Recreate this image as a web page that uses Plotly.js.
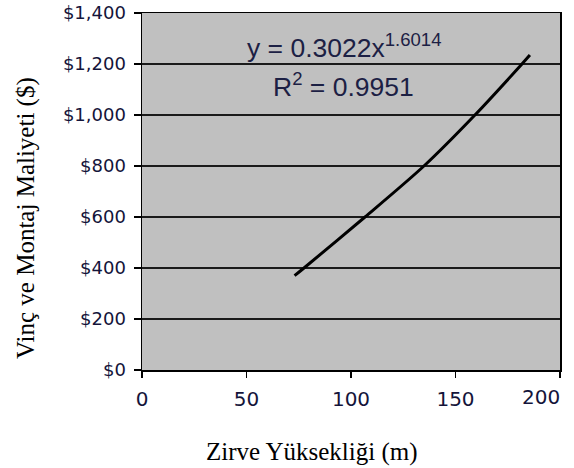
<!DOCTYPE html>
<html>
<head>
<meta charset="utf-8">
<script src="https://cdn.plot.ly/plotly-3.0.1.min.js"></script>
<style>
html,body{margin:0;padding:0;background:#fff;}
#chart{width:574px;height:468px;}
</style>
</head>
<body>
<div id="chart"></div>
<script>
// Curve (height in m, cost in $)
const heights = [73, 77.5, 106.7, 134.9, 159.3, 181.8, 185.6];
const costs   = [370, 400, 600, 800, 1000, 1200, 1235];

const xTickVals = [0, 50, 100, 150, 200];
const xTickText = ['0', '50', '100', '150', '200'];
const yTickVals = [0, 200, 400, 600, 800, 1000, 1200, 1400];
const yTickText = ['$0', '$200', '$400', '$600', '$800', '$1,000', '$1,200', '$1,400'];

const eqText = 'y = 0.3022x<sup>1.6014</sup>';
const r2Text = 'R<sup>2</sup> = 0.9951';
const xTitle = 'Zirve Yüksekliği (m)';
const yTitle = 'Vinç ve Montaj Maliyeti ($)';

const L = 142, R = 560, T = 13, B = 370;
const px = x => (x - L) / (R - L);
const py = y => (B - y) / (B - T);

const trace = {
  x: heights, y: costs, type: 'scatter', mode: 'lines',
  line: {color: '#000', width: 3, shape: 'spline', smoothing: 0.8},
  hoverinfo: 'skip', showlegend: false
};

const tickFontX = {family: 'DejaVu Sans', size: 20, color: '#14143a'};
const n = xTickVals.length;

const layout = {
  width: 574, height: 468,
  margin: {l: L, r: 574 - R, t: T, b: 468 - B, pad: 0},
  paper_bgcolor: '#fff', plot_bgcolor: '#c0c0c0',
  showlegend: false,
  xaxis: {
    range: [0, 200], tickvals: xTickVals,
    // last label is drawn below as an annotation, nudged left to stay inside the page
    ticktext: xTickText.map((t, i) => i === n - 1 ? '' : t),
    ticks: 'outside', ticklen: 6, tickwidth: 1.5, tickcolor: '#000',
    showgrid: false, zeroline: false,
    showline: true, linecolor: '#000', linewidth: 1.5, mirror: true,
    tickfont: tickFontX,
    ticklabelstandoff: 4
  },
  yaxis: {
    range: [0, 1400], tickvals: yTickVals, ticktext: yTickText,
    ticks: 'outside', ticklen: 7, tickwidth: 1.5, tickcolor: '#000',
    showgrid: true, gridcolor: '#1a1a1a', gridwidth: 1.3,
    zeroline: false,
    showline: true, linecolor: '#000', linewidth: 1.5, mirror: true,
    tickfont: {family: 'DejaVu Sans', size: 18, color: '#14143a'},
    ticklabelstandoff: 4
  },
  annotations: [
    {text: xTickText[n - 1], xref: 'x', yref: 'paper', x: xTickVals[n - 1], y: py(397),
     xanchor: 'center', yanchor: 'middle', xshift: -19, showarrow: false,
     font: tickFontX},
    {text: eqText, xref: 'paper', yref: 'paper', x: px(344), y: py(46),
     xanchor: 'center', yanchor: 'middle', showarrow: false,
     font: {family: 'Liberation Sans', size: 26.5, color: '#1c2044'}},
    {text: r2Text, xref: 'paper', yref: 'paper', x: px(343), y: py(85),
     xanchor: 'center', yanchor: 'middle', showarrow: false,
     font: {family: 'Liberation Sans', size: 26.5, color: '#1c2044'}},
    {text: xTitle, xref: 'paper', yref: 'paper', x: px(312), y: py(452),
     xanchor: 'center', yanchor: 'middle', showarrow: false,
     font: {family: 'Liberation Serif', size: 25, color: '#000'}},
    {text: yTitle, xref: 'paper', yref: 'paper', x: px(26), y: py(218),
     xanchor: 'center', yanchor: 'middle', showarrow: false, textangle: -90,
     font: {family: 'Liberation Serif', size: 25, color: '#000'}}
  ]
};

Plotly.newPlot('chart', [trace], layout, {staticPlot: true, displayModeBar: false});
</script>
</body>
</html>
